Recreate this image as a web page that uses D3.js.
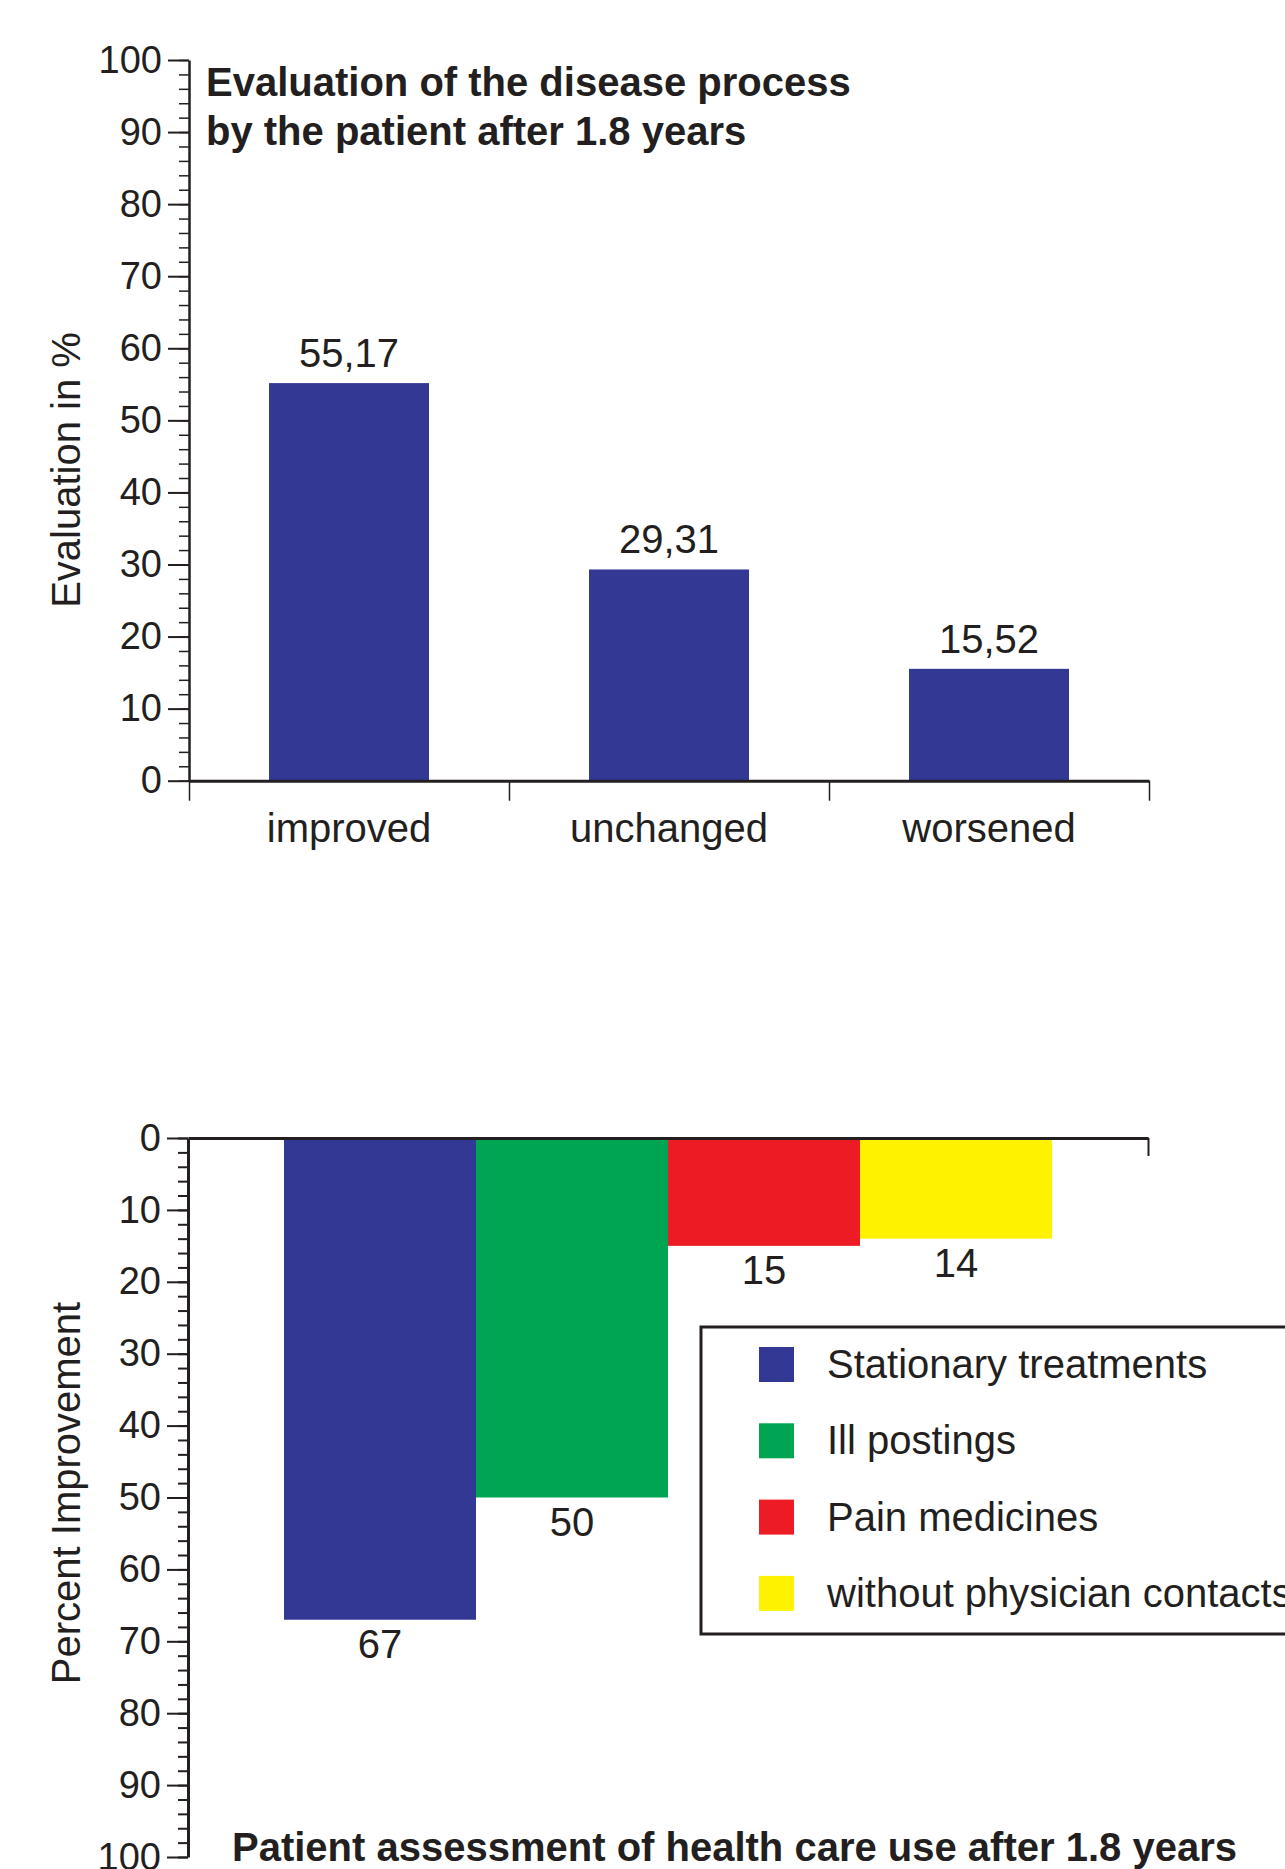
<!DOCTYPE html>
<html>
<head>
<meta charset="utf-8">
<script src="https://cdn.jsdelivr.net/npm/d3@7"></script>
<style>
  body { margin: 0; background: #fff; }
  svg { display: block; }
  text { font-family: "Liberation Sans", Arial, Helvetica, sans-serif; fill: #231f20; }
  .axis path, .axis line { stroke: #231f20; }
</style>
</head>
<body>
<svg></svg>
<script>
// data
const categories = ['improved', 'unchanged', 'worsened'];
const evaluation = [55.17, 29.31, 15.52];
const evaluationLabels = ['55,17', '29,31', '15,52'];

const useSeries = ['Stationary treatments', 'Ill postings', 'Pain medicines', 'without physician contacts'];
const useValues = [67, 50, 15, 14];
const useColors = ['#333895', '#00a551', '#ed1c24', '#fff200'];

const majorTicks = d3.range(0, 101, 10);
const minorTicks = d3.range(0, 101, 2);

const W = 1285, H = 1869;
const FS = '40px';      // general text
const TICK_FS = '38px'; // axis numbers

const svg = d3.select('svg').attr('width', W).attr('height', H);

// ---------- top chart ----------
const box1 = {l: 189, r: 1149, y0: 780.7, y100: 60};

const y1 = d3.scaleLinear().domain([0, 100]).range([box1.y0, box1.y100]);
const x1 = d3.scaleBand().domain(categories).range([box1.l, box1.r])
    .paddingInner(0.5).paddingOuter(0.25);
const x1Edge = d3.scaleLinear().domain([0, categories.length]).range([box1.l, box1.r]);

const g1 = svg.append('g');

g1.selectAll('rect.bar')
    .data(evaluation)
    .join('rect')
    .attr('class', 'bar')
    .attr('x', (d, i) => x1(categories[i]))
    .attr('width', x1.bandwidth())
    .attr('y', d => y1(d))
    .attr('height', d => y1(0) - y1(d))
    .attr('fill', useColors[0]);

g1.selectAll('text.val')
    .data(evaluation)
    .join('text')
    .attr('class', 'val')
    .attr('x', (d, i) => x1(categories[i]) + x1.bandwidth() / 2)
    .attr('y', d => y1(d) - 16)
    .attr('text-anchor', 'middle')
    .style('font-size', FS)
    .text((d, i) => evaluationLabels[i]);

// minor ticks
g1.append('g')
    .attr('class', 'axis')
    .attr('transform', `translate(${box1.l},0)`)
    .call(d3.axisLeft(y1).tickValues(minorTicks).tickSize(10).tickFormat(''))
    .call(g => g.select('.domain').remove())
    .selectAll('line').attr('stroke-width', 1.5);

// major ticks + labels
g1.append('g')
    .attr('class', 'axis')
    .attr('transform', `translate(${box1.l},0)`)
    .call(d3.axisLeft(y1).tickValues(majorTicks).tickSize(21).tickSizeOuter(0).tickPadding(6))
    .call(g => g.select('.domain').attr('stroke-width', 2.5))
    .call(g => g.selectAll('line').attr('stroke-width', 2))
    .call(g => g.selectAll('text').style('font-size', TICK_FS).attr('fill', '#231f20')
        .attr('font-family', null));

// x axis with band edges
g1.append('g')
    .attr('class', 'axis')
    .attr('transform', `translate(0,${box1.y0})`)
    .call(d3.axisBottom(x1Edge).tickValues(d3.range(0, categories.length + 1))
        .tickSize(20).tickSizeOuter(0).tickFormat(''))
    .call(g => g.select('.domain').attr('stroke-width', 3))
    .call(g => g.selectAll('line').attr('stroke-width', 1.5));

g1.append('g')
    .attr('transform', `translate(0,${box1.y0})`)
    .call(d3.axisBottom(x1).tickSize(0).tickPadding(33))
    .call(g => g.select('.domain').remove())
    .call(g => g.selectAll('text').style('font-size', FS).attr('fill', '#231f20')
        .attr('font-family', null));

g1.append('text')
    .attr('transform', 'translate(80,470) rotate(-90)')
    .attr('text-anchor', 'middle')
    .style('font-size', FS)
    .text('Evaluation in %');

g1.append('text')
    .attr('x', 206).attr('y', 96)
    .style('font-size', FS).style('font-weight', 'bold')
    .text('Evaluation of the disease process');
g1.append('text')
    .attr('x', 206).attr('y', 145)
    .style('font-size', FS).style('font-weight', 'bold')
    .text('by the patient after 1.8 years');

// ---------- bottom chart ----------
const box2 = {l: 188, r: 1148, y0: 1138, y100: 1857};

const y2 = d3.scaleLinear().domain([0, 100]).range([box2.y0, box2.y100]);
const x2 = d3.scaleBand().domain(useSeries).range([box2.l, box2.r])
    .paddingInner(0).paddingOuter(0.5);
const x2Edge = d3.scaleLinear().domain([0, 1]).range([box2.l, box2.r]);

const g2 = svg.append('g');

g2.selectAll('rect.bar')
    .data(useValues)
    .join('rect')
    .attr('class', 'bar')
    .attr('x', (d, i) => x2(useSeries[i]))
    .attr('width', x2.bandwidth())
    .attr('y', y2(0))
    .attr('height', d => y2(d) - y2(0))
    .attr('fill', (d, i) => useColors[i]);

g2.selectAll('text.val')
    .data(useValues)
    .join('text')
    .attr('class', 'val')
    .attr('x', (d, i) => x2(useSeries[i]) + x2.bandwidth() / 2)
    .attr('y', d => y2(d) + 38)
    .attr('text-anchor', 'middle')
    .style('font-size', FS)
    .text(d => d);

g2.append('g')
    .attr('class', 'axis')
    .attr('transform', `translate(${box2.l},0)`)
    .call(d3.axisLeft(y2).tickValues(minorTicks).tickSize(10).tickFormat(''))
    .call(g => g.select('.domain').remove())
    .selectAll('line').attr('stroke-width', 2);

g2.append('g')
    .attr('class', 'axis')
    .attr('transform', `translate(${box2.l},0)`)
    .call(d3.axisLeft(y2).tickValues(majorTicks).tickSize(21).tickSizeOuter(0).tickPadding(6))
    .call(g => g.select('.domain').attr('stroke-width', 3))
    .call(g => g.selectAll('line').attr('stroke-width', 2))
    .call(g => g.selectAll('text').style('font-size', TICK_FS).attr('fill', '#231f20')
        .attr('font-family', null));

g2.append('g')
    .attr('class', 'axis')
    .attr('transform', `translate(0,${box2.y0})`)
    .call(d3.axisBottom(x2Edge).tickValues([1]).tickSize(18).tickSizeOuter(0).tickFormat(''))
    .call(g => g.select('.domain').attr('stroke-width', 3))
    .call(g => g.selectAll('line').attr('stroke-width', 2));

g2.append('text')
    .attr('transform', 'translate(80,1493) rotate(-90)')
    .attr('text-anchor', 'middle')
    .style('font-size', FS)
    .text('Percent Improvement');

// legend
const leg = g2.append('g').attr('transform', 'translate(701,1327)');
leg.append('rect')
    .attr('width', 700).attr('height', 307)
    .attr('fill', '#fff').attr('stroke', '#231f20').attr('stroke-width', 3);

const rows = leg.selectAll('g.row')
    .data(useSeries)
    .join('g')
    .attr('class', 'row')
    .attr('transform', (d, i) => `translate(0,${20 + i * 76.3})`);
rows.append('rect')
    .attr('x', 58).attr('y', 0)
    .attr('width', 35).attr('height', 35)
    .attr('fill', (d, i) => useColors[i]);
rows.append('text')
    .attr('x', 126).attr('y', 31)
    .style('font-size', FS)
    .text(d => d);

g2.append('text')
    .attr('x', 232).attr('y', 1861)
    .style('font-size', FS).style('font-weight', 'bold')
    .text('Patient assessment of health care use after 1.8 years');
</script>
</body>
</html>
